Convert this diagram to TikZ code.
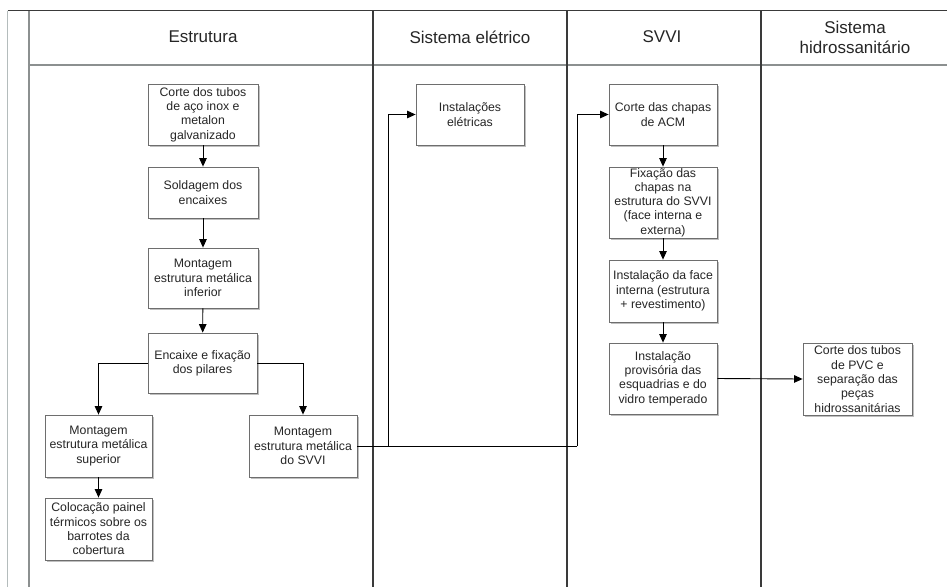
\documentclass[tikz,border=0pt]{standalone}
\usepackage{fontspec}
\setmainfont{Liberation Sans}
\usetikzlibrary{arrows.meta,shadows}
\definecolor{lanedark}{HTML}{3A3A3A}
\definecolor{lanegray}{HTML}{8C9090}
\definecolor{lanelight}{HTML}{B4BCBC}
\definecolor{boxline}{HTML}{6E6E6E}
\definecolor{txt}{HTML}{262626}
\begin{document}
\begin{tikzpicture}[x=1pt,y=-1pt,
  box/.style={draw=boxline, fill=white, line width=0.8pt, inner sep=0pt, align=center,
    text=txt, font=\fontsize{12.3}{14.3}\selectfont,
    drop shadow={shadow xshift=1.5pt, shadow yshift=-1.5pt, fill=black, opacity=0.25}},
  hdr/.style={align=center, text=txt, font=\fontsize{17}{20}\selectfont, inner sep=0pt},
  conn/.style={draw=black, line width=0.9pt, -{Triangle[length=8.5pt,width=7.5pt]}},
  plain/.style={draw=black, line width=0.9pt},
  lane/.style={draw=lanedark, line width=1.2pt},
]
\useasboundingbox (0,0) rectangle (947,587);
\fill[white] (0,0) rectangle (947,587);

% frame and lanes
\draw[draw=lanelight, line width=1pt] (7.5,10.5) -- (7.5,587);
\draw[draw=lanegray, line width=1.6pt] (29,10.5) -- (29,587);
\draw[draw=lanedark, line width=1.1pt] (7.5,10.5) -- (947,10.5);
\draw[draw=lanegray, line width=1.4pt] (29,65) -- (947,65);
\draw[lane] (373,10.5) -- (373,587);
\draw[lane] (567,10.5) -- (567,587);
\draw[lane] (761,10.5) -- (761,587);

% headers
\node[hdr] (h1) at (203,37) {Estrutura};
\node[hdr] (h2) at (470,37) {Sistema elétrico};
\node[hdr] (h3) at (662,37) {SVVI};
\node[hdr] (h4) at (855,37) {Sistema\\hidrossanitário};

% Estrutura
\node[box, minimum width=110pt, minimum height=61pt] (b1) at (203,114.5) {Corte dos tubos\\de aço inox e\\metalon\\galvanizado};
\node[box, minimum width=110pt, minimum height=51pt] (b2) at (203,192.5) {Soldagem dos\\encaixes};
\node[box, minimum width=110pt, minimum height=60pt] (b3) at (203,278) {Montagem\\estrutura metálica\\inferior};
\node[box, minimum width=109pt, minimum height=60pt] (b4) at (202.5,363) {Encaixe e fixação\\dos pilares};
\node[box, minimum width=107pt, minimum height=62pt] (b5) at (98.5,446) {Montagem\\estrutura metálica\\superior};
\node[box, minimum width=107pt, minimum height=62pt] (b6) at (98.5,529) {Colocação painel\\térmicos sobre os\\barrotes da\\cobertura};
\node[box, minimum width=108pt, minimum height=62pt] (b7) at (303,446) {Montagem\\estrutura metálica\\do SVVI};

% Sistema eletrico
\node[box, minimum width=108pt, minimum height=61pt] (el) at (470,114.5) {Instalações\\elétricas};

% SVVI
\node[box, minimum width=108pt, minimum height=61pt] (acm) at (663,114.5) {Corte das chapas\\de ACM};
\node[box, minimum width=108pt, minimum height=71pt] (fix) at (663,202.5) {Fixação das\\chapas na\\estrutura do SVVI\\(face interna e\\externa)};
\node[box, minimum width=108pt, minimum height=62pt] (face) at (663,291) {Instalação da face\\interna (estrutura\\+ revestimento)};
\node[box, minimum width=108pt, minimum height=71pt] (prov) at (663,378.5) {Instalação\\provisória das\\esquadrias e do\\vidro temperado};

% Hidrossanitario
\node[box, minimum width=109pt, minimum height=72pt] (hid) at (857.5,379) {Corte dos tubos\\de PVC e\\separação das\\peças\\hidrossanitárias};

% junctions
\coordinate (j1) at (388,446);
\coordinate (j2) at (577,446);

% connectors
\draw[conn] (b1) -- (b2);
\draw[conn] (b2) -- (b3);
\draw[conn] (b3) -- (b4);
\draw[conn] (b4.west) -| (b5.north);
\draw[conn] (b4.east) -| (b7.north);
\draw[conn] (b5) -- (b6);
\draw[plain] (b7.east) -- (j1);
\draw[conn] (j1) |- (el.west);
\draw[plain] (j1) -- (j2);
\draw[conn] (j2) |- (acm.west);
\draw[conn] (acm) -- (fix);
\draw[conn] (fix) -- (face);
\draw[conn] (face) -- (prov);
\draw[conn] (prov.east) -- (hid.west);
\end{tikzpicture}
\end{document}
